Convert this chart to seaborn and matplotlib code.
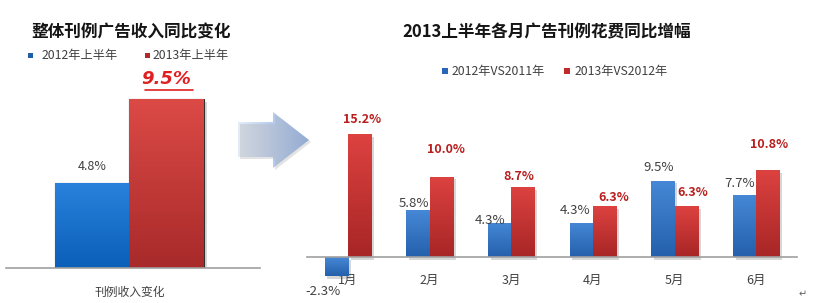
import numpy as np
import pandas as pd
import matplotlib
matplotlib.use("Agg")
import matplotlib.pyplot as plt
import seaborn as sns
from matplotlib.patches import Polygon
from matplotlib.lines import Line2D
from matplotlib import patheffects as pe

# ---------------- data ----------------
left_title = "整体刊例广告收入同比变化"
left_category = ["刊例收入变化"]
left_series = ["2012年上半年", "2013年上半年"]
left_values = [4.8, 9.5]

right_title = "2013上半年各月广告刊例花费同比增幅"
months = ["1月", "2月", "3月", "4月", "5月", "6月"]
right_series = ["2012年VS2011年", "2013年VS2012年"]
vals_2012 = [-2.3, 5.8, 4.3, 4.3, 9.5, 7.7]
vals_2013 = [15.2, 10.0, 8.7, 6.3, 6.3, 10.8]

# ---------------- style ----------------
sns.set_theme(style="white")
plt.rcParams["font.family"] = ["Noto Sans CJK SC", "DejaVu Sans"]

W, H = 813, 303
fig = plt.figure(figsize=(W / 100, H / 100), dpi=100)
fig.patch.set_facecolor("white")

def px_axes(x0, y0, x1, y1):
    return fig.add_axes([x0 / W, 1 - y1 / H, (x1 - x0) / W, (y1 - y0) / H])

BLUE_L = ("#2a82dc", "#0a5fb8")
RED_L = ("#dc4a46", "#a82a2a")
BLUE_R = ("#4688d6", "#2460ac")
RED_R = ("#dc4240", "#a82626")

def gradient_bars(ax, patches, cols):
    for p in patches:
        x, y = p.get_x(), p.get_y()
        w, h = p.get_width(), p.get_height()
        if w == 0 or h == 0:
            continue
        c0 = np.array(matplotlib.colors.to_rgb(cols[0]))
        c1 = np.array(matplotlib.colors.to_rgb(cols[1]))
        t = np.linspace(0, 1, 64)[:, None]
        grad = (c0 * (1 - t) + c1 * t)[:, None, :]
        ytop, ybot = max(y, y + h), min(y, y + h)
        im = ax.imshow(grad, extent=(x, x + w, ybot, ytop), origin="upper",
                       aspect="auto", zorder=p.get_zorder() + 0.1)
        im.set_clip_path(p)
        p.set_path_effects([pe.SimplePatchShadow(offset=(2, -2), alpha=0.25,
                                                 shadow_rgbFace="#606060"),
                            pe.Normal()])

# ---------------- left panel ----------------
axL = px_axes(6, 81, 260, 268)
dfL = pd.DataFrame({"cat": left_category * 2, "series": left_series,
                    "value": left_values})
sns.barplot(data=dfL, x="cat", y="value", hue="series", ax=axL,
            palette=[BLUE_L[1], RED_L[1]], width=0.59, legend=False,
            edgecolor="#303030", linewidth=0.8, saturation=1)
for cont, cols in zip(axL.containers, [BLUE_L, RED_L]):
    gradient_bars(axL, cont.patches, cols)
axL.set_xlim(-0.486, 0.514)
axL.set_ylim(0, 10.5)
axL.set_yticks([])
axL.set_xlabel("")
axL.set_ylabel("")
for s in ["left", "right", "top"]:
    axL.spines[s].set_visible(False)
axL.spines["bottom"].set_color("#a0a0a0")
axL.spines["bottom"].set_linewidth(1.2)
axL.tick_params(axis="x", length=0, pad=13, labelsize=8.5, labelcolor="#404040")
axL.patch.set_alpha(0)

pb = axL.containers[0].patches[0]
axL.annotate(f"{left_values[0]:.1f}%", (pb.get_x() + pb.get_width() / 2, left_values[0]),
             xytext=(0, 10), textcoords="offset pixels", ha="center", va="bottom",
             fontsize=9, color="#404040")
pr = axL.containers[1].patches[0]
axL.annotate(f"{left_values[1]:.1f}%", (pr.get_x() + pr.get_width() / 2, left_values[1]),
             xytext=(-1, 11), textcoords="offset pixels", ha="center", va="bottom",
             fontsize=13, color="#e02020", fontweight="bold", fontstyle="italic",
             family=["DejaVu Sans"])
fig.add_artist(Line2D([145 / W, 193 / W], [1 - 90 / H, 1 - 90 / H],
                      color="#e02020", lw=1.2))

fig.text(131 / W, 1 - 32 / H, left_title, ha="center", va="center",
         fontsize=12, fontweight="bold", color="#151515")
for mx, tx, col, lab in [(28, 42, "#1f5fa8", left_series[0]),
                         (145, 153, "#b02a2a", left_series[1])]:
    fig.patches.append(matplotlib.patches.Rectangle(
        (mx / W, 1 - 58 / H), 5 / W, 5 / H, transform=fig.transFigure,
        facecolor=col, edgecolor="none"))
    fig.text(tx / W, 1 - 55 / H, lab, ha="left", va="center",
             fontsize=8.8, color="#404040")

# ---------------- arrow ----------------
ax_arrow = fig.add_axes([0, 0, 1, 1])
ax_arrow.set_xlim(0, W)
ax_arrow.set_ylim(H, 0)
ax_arrow.axis("off")
ax_arrow.patch.set_alpha(0)
arrow_pts = [(238, 122), (273, 122), (273, 112), (309, 140), (273, 168),
             (273, 157), (238, 157)]
shadow = Polygon([(x + 2, y + 2) for x, y in arrow_pts], closed=True,
                 facecolor="#b0b0b0", edgecolor="none", alpha=0.35)
ax_arrow.add_patch(shadow)
arrow = Polygon(arrow_pts, closed=True, facecolor="none", edgecolor="none")
ax_arrow.add_patch(arrow)
gx = np.linspace(0, 1, 128)[None, :]
c0 = np.array(matplotlib.colors.to_rgb("#e4ecf8"))
c1 = np.array(matplotlib.colors.to_rgb("#86aae6"))
garr = (c0 * (1 - gx[..., None]) + c1 * gx[..., None])
im = ax_arrow.imshow(garr, extent=(238, 309, 168, 112), aspect="auto")
im.set_clip_path(arrow)
ax_arrow.set_xlim(0, W)
ax_arrow.set_ylim(H, 0)

# ---------------- right panel ----------------
axR = px_axes(307, 128, 797, 280)
dfR = pd.DataFrame({
    "month": months * 2,
    "series": [right_series[0]] * len(months) + [right_series[1]] * len(months),
    "value": vals_2012 + vals_2013,
})
sns.barplot(data=dfR, x="month", y="value", hue="series", ax=axR,
            palette=[BLUE_R[1], RED_R[1]], width=0.57, legend=False,
            edgecolor="none", saturation=1)
for cont, cols in zip(axR.containers, [BLUE_R, RED_R]):
    gradient_bars(axR, cont.patches, cols)
axR.set_xlim(-0.5, 5.5)
axR.set_ylim(-2.8, 16.0)
axR.set_yticks([])
axR.set_xlabel("")
axR.set_ylabel("")
for s in ["left", "right", "top"]:
    axR.spines[s].set_visible(False)
axR.spines["bottom"].set_position(("data", 0))
axR.spines["bottom"].set_color("#a0a0a0")
axR.spines["bottom"].set_linewidth(1.2)
axR.tick_params(axis="x", length=0, pad=12, labelsize=9, labelcolor="#404040")
axR.patch.set_alpha(0)

# per-label nudges in pixels (dx, dy) from bar end to label centre
blue_nudge = [(-13, -16), (-4, 7), (-9, 2), (-6, 12), (-4, 13), (-5, 12)]
red_nudge = [(3, 15), (5, 27), (-4, 11), (9, 9), (7, 14), (1, 26)]
for p, v, (dx, dy) in zip(axR.containers[0].patches, vals_2012, blue_nudge):
    axR.annotate(f"{v:.1f}%", (p.get_x() + p.get_width() / 2, v),
                 xytext=(dx, dy), textcoords="offset pixels", ha="center",
                 va="center", fontsize=9.5, color="#404040",
                 annotation_clip=False)
for p, v, (dx, dy) in zip(axR.containers[1].patches, vals_2013, red_nudge):
    axR.annotate(f"{v:.1f}%", (p.get_x() + p.get_width() / 2, v),
                 xytext=(dx, dy), textcoords="offset pixels", ha="center",
                 va="center", fontsize=9, color="#b81e1e", fontweight="bold",
                 annotation_clip=False)

fig.text(547 / W, 1 - 32 / H, right_title, ha="center", va="center",
         fontsize=12, fontweight="bold", color="#151515")
for mx, tx, col, lab in [(442, 452, "#2a66b8", right_series[0]),
                         (564, 575, "#c02a2a", right_series[1])]:
    fig.patches.append(matplotlib.patches.Rectangle(
        (mx / W, 1 - 74 / H), 6 / W, 6 / H, transform=fig.transFigure,
        facecolor=col, edgecolor="none"))
    fig.text(tx / W, 1 - 72 / H, lab, ha="left", va="center",
             fontsize=8.8, color="#404040")

fig.text(803 / W, 1 - 294 / H, "↵", ha="center", va="center", fontsize=7,
         color="#606060", family=["DejaVu Sans"])

fig.savefig("out.png", dpi=100, facecolor="white")
